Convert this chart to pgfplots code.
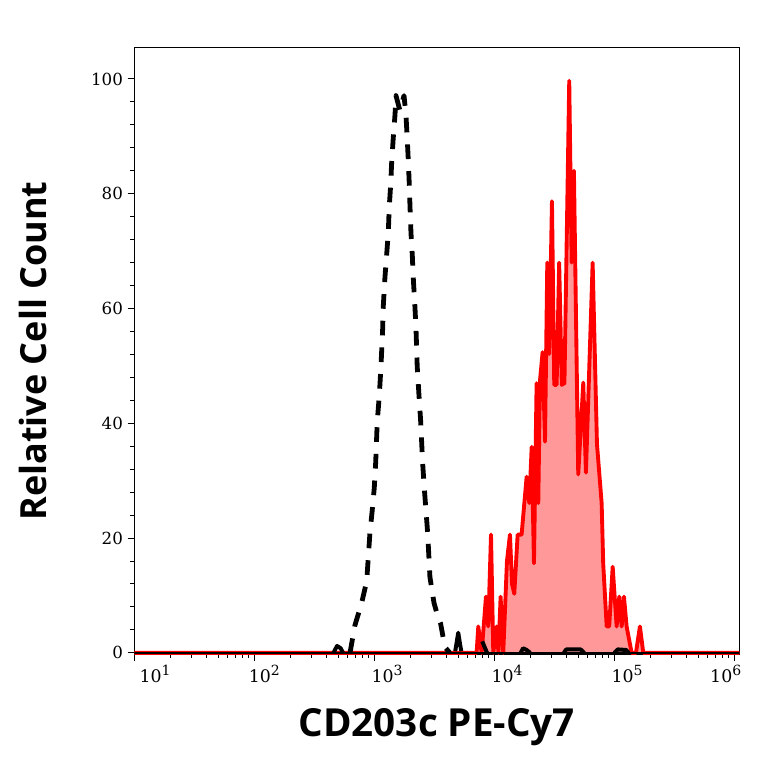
\documentclass[border=0pt]{standalone}
\usepackage{fontspec}
\setmainfont{DejaVu Serif}
\newfontfamily\labfont{Open Sans}
\usepackage{pgfplots}
\usepackage{pgfplotstable}
\pgfplotsset{compat=1.18}
\definecolor{redfill}{RGB}{255,153,153}
\definecolor{baseline}{RGB}{165,25,25}
\newcommand\xl[2]{\makebox[0pt][l]{\hspace*{#2}\fontsize{13}{15}\selectfont 10\raisebox{0.75ex}{\fontsize{10.5}{12}\selectfont #1}}}

\pgfplotstableread{
L v
1.000 0
3.853 0
3.867 4.6
3.895 0
3.931 9.8
3.950 4.6
3.973 20.6
3.992 0
4.020 4.6
4.035 0
4.053 9.8
4.075 0
4.106 16.0
4.131 20.6
4.148 12.0
4.167 10.3
4.195 20.6
4.228 20.6
4.270 30.7
4.292 26.1
4.312 35.9
4.331 15.6
4.353 47.0
4.367 26.1
4.381 47.4
4.403 52.4
4.423 36.8
4.442 68.0
4.458 52.1
4.481 78.7
4.500 46.7
4.520 46.7
4.541 68.0
4.563 46.7
4.585 47.0
4.625 99.7
4.645 68.0
4.664 84.0
4.700 31.1
4.742 47.1
4.764 31.4
4.820 68.0
4.856 36.4
4.895 26.1
4.908 15.6
4.937 4.6
4.958 4.6
4.987 15.0
5.020 4.6
5.042 9.8
5.062 4.6
5.081 9.8
5.103 4.6
5.145 0
5.181 0
5.214 4.6
5.242 0
6.042 0
}\reddata

\pgfplotstableread{
L v
2.798 0
2.839 4.8
2.895 8.7
2.937 12.5
2.964 20.9
2.983 24.8
3.000 28.7
3.012 33.2
3.025 40.3
3.042 44.8
3.056 49.9
3.070 56.4
3.075 60.3
3.089 65.4
3.103 69.3
3.117 73.2
3.125 77.7
3.137 81.6
3.145 85.4
3.158 89.6
3.173 93.8
3.181 97.1
3.214 94.5
3.248 97.1
3.264 93.8
3.275 89.6
3.283 86.1
3.292 81.6
3.298 77.7
3.306 73.2
3.317 69.3
3.325 65.4
3.339 60.3
3.348 56.4
3.358 49.9
3.373 44.8
3.387 40.3
3.403 33.2
3.417 28.7
3.431 24.8
3.445 20.9
3.464 13.2
3.498 8.7
3.533 6.1
3.553 5.1
3.589 1.0
3.630 0
}\blackpeak

\begin{document}
\begin{tikzpicture}
\begin{axis}[
  scale only axis,
  width=453.75pt, height=454.5pt,
  xmin=1, xmax=6.042, ymin=-0.2, ymax=105.4,
  axis line style={line width=0.75pt},
  tick align=outside, xtick pos=bottom, ytick pos=left,
  major tick length=5pt, minor tick length=3pt,
  every tick/.style={black, line width=0.75pt},
  xtick={1,2,3,4,5,6},
  xticklabels={\xl{1}{4pt},\xl{2}{-4pt},\xl{3}{-2pt},\xl{4}{-2pt},\xl{5}{-2pt},\xl{6}{-18pt}},
  minor xtick={1.30103,1.47712,1.60206,1.69897,1.77815,1.84510,1.90309,1.95424,
               2.30103,2.47712,2.60206,2.69897,2.77815,2.84510,2.90309,2.95424,
               3.30103,3.47712,3.60206,3.69897,3.77815,3.84510,3.90309,3.95424,
               4.30103,4.47712,4.60206,4.69897,4.77815,4.84510,4.90309,4.95424,
               5.30103,5.47712,5.60206,5.69897,5.77815,5.84510,5.90309,5.95424},
  ytick={0,20,40,60,80,100}, minor y tick num=4,
  /pgf/number format/assume math mode=true,
  yticklabel style={font=\fontsize{12.5}{14}\selectfont},
  xlabel={CD203c PE-Cy7},
  ylabel={Relative Cell Count},
  xlabel style={font=\labfont\bfseries\fontsize{29}{34}\selectfont, at={(axis description cs:0.5,-0.1205)}, anchor=center},
  ylabel style={font=\labfont\bfseries\fontsize{27}{32}\selectfont, at={(axis description cs:-0.1674,0.5)}, anchor=center},
]
\addplot[fill=redfill, draw=none] table[x=L,y=v] {\reddata} \closedcycle;
\addplot[red, line width=2.9pt, line join=round] table[x=L,y=v] {\reddata};
\addplot[baseline, line width=2pt] coordinates {(1,0) (6.042,0)};
\addplot[black, line width=3.6pt, line join=round, dash pattern=on 11pt off 9pt] table[x=L,y=v] {\blackpeak};
\addplot[black, line width=3pt, line join=round] coordinates {(2.66,0) (2.69,1.2) (2.72,0.8) (2.74,0)};
\addplot[black, line width=3pt, line join=round] coordinates {(3.675,0.3) (3.70,3.5) (3.715,1.5) (3.725,0.3)};
\addplot[black, line width=3pt, line join=round] coordinates {(3.90,2.0) (3.94,0)};
\addplot[black, line width=3pt, line join=round] coordinates {(4.22,0) (4.24,0.8) (4.27,0.5) (4.30,0)};
\addplot[black, line width=3pt, line join=round] coordinates {(4.58,0) (4.60,0.6) (4.72,0.6) (4.75,0)};
\addplot[black, line width=3pt, line join=round] coordinates {(5.00,0) (5.03,0.6) (5.10,0.5) (5.12,0)};
\end{axis}
\pgfresetboundingbox
\path[use as bounding box] ([xshift=-100.7pt,yshift=-82.5pt]current axis.south west) rectangle ([xshift=18.5pt,yshift=36pt]current axis.north east);
\end{tikzpicture}
\end{document}
